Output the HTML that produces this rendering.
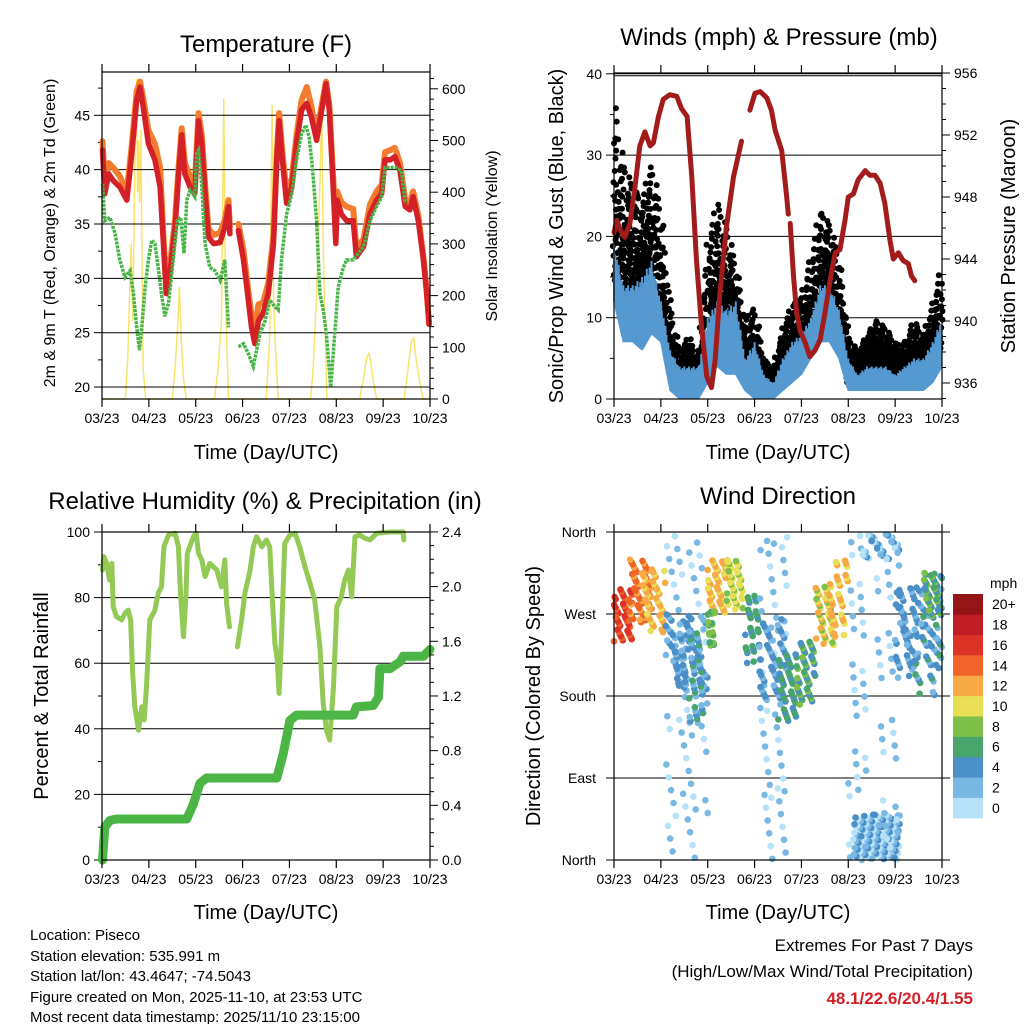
<!DOCTYPE html>
<html><head><meta charset="utf-8"><style>
body{margin:0;background:#fff}
svg{display:block;font-family:"Liberation Sans",sans-serif}
</style></head><body>
<svg id="s" width="1024" height="1024" viewBox="0 0 1024 1024" xmlns="http://www.w3.org/2000/svg">
<g font-size="24" text-anchor="middle">
<text x="266" y="52">Temperature (F)</text>
<text x="779" y="45">Winds (mph) &amp; Pressure (mb)</text>
<text x="265" y="509">Relative Humidity (%) &amp; Precipitation (in)</text>
<text x="778" y="504">Wind Direction</text>
</g>
<g font-size="20" text-anchor="middle">
<text x="266" y="459">Time (Day/UTC)</text>
<text x="778" y="459">Time (Day/UTC)</text>
<text x="266" y="919">Time (Day/UTC)</text>
<text x="778" y="919">Time (Day/UTC)</text>
<text transform="translate(55,233) rotate(-90)" font-size="16">2m &amp; 9m T (Red, Orange) &amp; 2m Td (Green)</text>
<text transform="translate(497,236) rotate(-90)" font-size="16">Solar Insolation (Yellow)</text>
<text transform="translate(563,236) rotate(-90)">Sonic/Prop Wind &amp; Gust (Blue, Black)</text>
<text transform="translate(1015,236) rotate(-90)">Station Pressure (Maroon)</text>
<text transform="translate(48,696) rotate(-90)">Percent &amp; Total Rainfall</text>
<text transform="translate(540,696) rotate(-90)">Direction (Colored By Speed)</text>
</g>
<g font-size="15">
<text x="30" y="940">Location: Piseco</text>
<text x="30" y="961">Station elevation: 535.991 m</text>
<text x="30" y="981">Station lat/lon: 43.4647; -74.5043</text>
<text x="30" y="1002">Figure created on Mon, 2025-11-10, at 23:53 UTC</text>
<text x="30" y="1022">Most recent data timestamp: 2025/11/10 23:15:00</text>
</g>
<g font-size="17" text-anchor="end">
<text x="973" y="951">Extremes For Past 7 Days</text>
<text x="973" y="977">(High/Low/Max Wind/Total Precipitation)</text>
<text x="973" y="1004" fill="#d42027" font-weight="bold">48.1/22.6/20.4/1.55</text>
</g>
<g id="plots"></g>
</svg>
<script>
// ---- Temperature data (day, value) ----
const redDays=[0.01,0.06,0.14,0.24,0.38,0.53,0.63,0.74,0.81,0.88,0.99,1.13,1.24,1.31,1.37,1.45,1.56,1.63,1.70,1.77,1.88,1.98,2.06,2.13,2.20,2.27,2.38,2.52,2.62,2.70,2.73,null,2.91,3.02,3.09,3.19,3.26,3.34,3.44,3.55,3.66,3.73,3.78,3.85,3.94,4.05,4.15,4.26,4.37,4.47,4.58,4.69,4.78,4.85,4.94,4.99,5.02,5.11,5.22,5.36,5.43,5.58,5.72,5.86,5.97,6.04,6.15,6.25,6.36,6.47,6.57,6.64,6.75,6.86,6.93,6.98];
const redT=[41.8,37.8,39.6,39.0,38.4,37.2,41.2,46.4,47.6,45.8,42.4,40.9,38.4,33.2,28.6,30.4,34.7,39.3,43.2,39.6,38.4,37.8,44.5,42.4,37.8,33.8,33.2,33.3,34.7,36.6,34.1,null,34.4,31.7,29.2,25.5,24.0,26.1,26.8,28.6,33.2,40.9,44.5,40.9,36.9,38.4,42.4,45.5,46.1,44.8,42.7,45.5,47.9,45.5,37.8,33.2,37.2,35.9,35.3,35.3,32.0,32.9,35.9,37.2,37.8,40.9,40.9,41.2,39.9,36.6,36.3,37.5,35.3,31.7,28.6,25.8];
const orangeT=[42.6,38.8,40.6,40.2,39.4,38.0,42.0,47.2,48.1,46.6,43.6,42.4,40.2,34.0,29.4,31.2,35.4,40.0,43.8,40.6,39.4,38.6,45.2,43.2,38.6,34.6,34.0,34.2,35.4,37.2,34.8,null,35.0,32.6,30.0,26.6,25.4,27.6,27.8,29.6,34.0,41.4,45.2,41.6,37.8,39.2,43.2,46.4,47.6,45.8,43.2,46.0,48.1,46.0,38.8,34.2,38.0,37.0,36.6,36.4,32.8,33.6,36.8,38.0,38.6,41.6,41.8,42.0,40.6,37.2,37.0,38.0,35.8,32.0,28.8,25.8];
const greenDays=[0.01,0.06,0.17,0.28,0.38,0.49,0.60,0.67,0.74,0.80,0.85,0.92,0.99,1.06,1.13,1.20,1.27,1.34,1.42,1.52,1.61,1.68,1.75,1.81,1.88,1.98,2.02,2.06,2.13,2.20,2.30,2.41,2.52,2.62,2.70,null,2.91,3.02,3.12,3.23,3.30,3.37,3.48,3.58,3.69,3.76,3.83,3.94,4.05,4.15,4.26,4.35,4.42,4.49,4.58,4.65,4.72,4.79,4.88,4.94,5.04,5.15,5.22,5.36,5.47,5.58,5.72,5.86,5.97,6.04,6.18,6.29,6.39,6.47];
const greenT=[38.7,35.3,35.6,34.1,31.7,30.1,30.7,28.6,25.5,23.4,25.5,29.2,31.7,33.5,33.2,31.0,28.6,26.5,27.7,31.7,35.3,35.6,32.3,37.2,38.1,37.5,41.5,41.8,38.4,33.2,31.0,30.7,29.8,31.7,25.5,null,23.7,24.0,23.1,21.9,23.4,24.9,26.1,28.0,27.4,27.1,31.7,35.9,37.8,40.9,43.3,44.1,43.0,40.2,35.3,28.6,27.1,24.9,20.0,23.4,29.2,31.0,31.7,31.7,32.3,32.9,35.3,36.6,37.5,40.2,40.2,40.2,39.9,36.9];
const solarDays=[0,0.5,0.55,0.62,0.66,0.7,0.74,0.76,0.78,0.8,0.83,0.86,0.88,0.93,1.5,1.56,1.62,1.65,1.69,1.74,1.8,2.4,2.48,2.55,2.6,2.63,2.66,2.7,3.5,3.53,3.58,3.63,3.66,3.7,3.76,4.45,4.5,4.58,4.65,4.69,4.72,4.76,4.8,5.5,5.58,5.65,5.7,5.75,5.8,5.86,6.45,6.52,6.6,6.65,6.7,6.77,6.85,7];
const solarW=[0,0,80,300,150,450,620,400,500,380,520,200,60,0,0,60,150,217,120,40,0,0,60,150,582,250,120,0,0,40,120,569,200,100,0,0,50,200,420,559,300,150,0,0,40,80,89,60,30,0,0,50,110,118,80,40,0,0];
// ---- Winds ----
const windDays=[0,0.2,0.4,0.6,0.8,1.0,1.2,1.4,1.6,1.8,2.0,2.2,2.4,2.6,2.8,3.0,3.2,3.4,3.6,3.8,4.0,4.2,4.4,4.6,4.8,5.0,5.2,5.4,5.6,5.8,6.0,6.2,6.4,6.6,6.8,7.0];
const sonicLo=[12,7,7,6,8,7,1,0,0,0,2,4,3,3,1,0,0,0,1,2,3,5,7,7,5,1,1,1,1,1,1,1,1,1,2,4];
const sonicHi=[19,14,14,15,17,12,6,4,4,4,10,12,11,12,5,7,3,2,5,7,8,10,14,14,11,5,3,4,4,4,3,4,5,5,7,10];
const gustLo=[15,12,12,14,14,10,3,1,2,1,6,10,7,8,3,2,1,1,2,4,5,7,11,12,8,2,2,3,4,3,3,2,3,3,4,7];
const gustHi=[38,30,27,25,30,24,12,6,8,5,20,25,22,17,10,12,5,4,9,12,13,18,24,22,18,8,6,8,10,9,7,7,10,8,12,17];
const presDays=[0,0.06,0.13,0.23,0.34,0.45,0.55,0.66,0.77,0.84,0.95,1.05,1.19,1.34,1.44,1.56,1.66,1.76,1.87,1.98,2.08,2.16,2.26,2.40,2.55,2.72,null,2.90,3.01,3.12,3.26,3.36,3.44,3.58,3.68,3.72,null,3.76,3.83,3.90,3.97,4.08,4.18,4.29,4.40,4.50,4.61,4.72,4.82,4.93,5.00,5.11,5.21,5.36,5.46,5.57,5.68,5.78,5.89,5.96,6.07,6.17,6.28,6.35,6.42];
const presMb=[945.7,946.5,945.9,945.4,946.3,948.7,951.3,952.2,951.3,951.5,953.2,954.3,954.6,954.5,953.7,953.2,949.3,943.9,939.6,936.4,935.7,937.5,941.8,946.1,949.3,951.6,null,953.6,954.7,954.8,954.4,953.6,952.3,951.0,948.2,946.9,null,946.3,942.9,940.5,939.4,938.6,937.7,938.1,938.8,940.5,942.6,944.4,944.6,946.5,948.0,948.2,949.1,949.7,949.4,949.4,948.9,947.6,945.2,944.0,944.4,943.9,943.7,942.9,942.6];
// ---- RH & precipitation ----
const rhDays=[0.01,0.04,0.10,0.16,0.21,0.24,0.31,0.42,0.49,0.56,0.61,0.65,0.70,0.78,0.85,0.90,0.95,1.02,1.13,1.20,1.27,1.32,1.42,1.56,1.63,1.68,1.74,1.79,1.82,1.95,2.01,2.06,2.13,2.20,2.30,2.45,2.55,2.62,2.66,2.72,null,2.89,2.98,3.05,3.16,3.23,3.30,3.41,3.51,3.58,3.64,3.69,3.74,3.78,3.83,3.90,4.01,4.12,4.22,4.33,4.44,4.54,4.65,4.72,4.79,4.86,4.94,5.01,5.11,5.18,5.26,5.33,5.40,5.50,5.61,5.72,5.86,6.15,6.43,6.44];
const rhVal=[88.4,92.5,90.4,85.4,90.4,77.2,74.2,73.2,75.2,76.2,73.2,57.9,46.7,39.6,46.7,42.7,52.8,73.2,76.2,81.3,83.3,95.5,99.1,99.6,95.5,80.3,68.1,80.3,93.5,98.6,99.6,93.5,91.5,86.4,90.4,88.4,83.3,91.5,78.2,71.1,null,65.0,73.2,81.3,88.4,95.5,98.6,95.5,97.6,95.5,78.2,66.0,61.0,50.8,68.1,96.5,99.1,99.6,95.5,89.4,84.4,79.3,65.0,47.8,39.6,36.6,52.8,77.2,80.3,85.4,88.4,80.3,98.6,99.1,98.1,97.6,99.6,100,100,97.6];
const pcpDays=[0.01,0.06,0.17,0.31,1.81,1.95,2.09,2.23,3.73,3.87,4.01,4.15,5.36,5.43,5.79,5.90,5.93,6.15,6.36,6.43,6.86,7.0];
const pcpIn=[0,0.24,0.29,0.30,0.30,0.41,0.56,0.60,0.60,0.78,1.02,1.06,1.06,1.12,1.13,1.19,1.40,1.40,1.45,1.49,1.49,1.54];
// ---- Wind direction clusters ----
const dirDayLo=[0.0,0.3,0.6,1.1,1.1,1.3,1.6,2.0,2.4,2.0,2.8,3.1,3.1,3.5,3.9,4.3,4.6,5.0,5.1,5.3,5.6,6.0,6.0,6.4,6.6];
const dirDayHi=[0.4,0.8,1.1,2.0,2.0,1.6,1.9,2.4,2.75,2.15,3.1,3.7,3.7,3.9,4.3,4.7,5.0,5.4,6.1,6.1,6.1,6.5,7.0,7.0,7.0];
const dirLo=[240,260,250,0,185,190,150,270,275,230,215,0,175,150,170,235,245,0,0,330,0,200,210,180,265];
const dirHi=[300,330,320,360,270,260,260,330,330,275,290,360,265,230,240,300,330,360,50,360,360,300,300,260,315];
const dirSpeed=[15,13,11,1,3,3,4,11,9,7,5,1,3,5,6,10,11,1,2,2,1,3,3,4,6];
const dirCount=[45,55,45,70,55,30,40,45,45,20,30,60,45,40,45,45,35,35,120,35,30,40,40,30,50];
const speedLabels=["0","2","4","6","8","10","12","14","16","18","20+"];
const speedColors=["#b5e2f8","#7ab8e4","#4a8fc7","#48a56b","#7cc04a","#e8df57","#f7a943","#f06429","#dd3326","#be1e24","#931518"];
const dayLabels=["03/23","04/23","05/23","06/23","07/23","08/23","09/23","10/23"];

const NS="http://www.w3.org/2000/svg";
const root=document.getElementById('plots');
function mk(tag,attrs,parent){const e=document.createElementNS(NS,tag);for(const k in attrs)e.setAttribute(k,attrs[k]);(parent||root).appendChild(e);return e;}
function pathFrom(xs,ys,fx,fy){let d='',pen=false;for(let i=0;i<xs.length;i++){if(xs[i]===null||ys[i]===null){pen=false;continue;}d+=(pen?'L':'M')+fx(xs[i]).toFixed(1)+','+fy(ys[i]).toFixed(1);pen=true;}return d;}

function frame(L,R,T,B,name){
  const g=mk('g',{});
  
  
  mk('rect',{x:L,y:T,width:R-L,height:B-T,fill:'none',stroke:'#000','stroke-width':1.2},g);
  const sx=(R-L)/7;
  for(let i=0;i<8;i++){const x=L+i*sx;
    mk('line',{x1:x,y1:B,x2:x,y2:B+8,stroke:'#000','stroke-width':1.2},g);
    mk('line',{x1:x,y1:T,x2:x,y2:T-8,stroke:'#000','stroke-width':1.2},g);
    const t=mk('text',{x:x,y:B+24,'font-size':14,'text-anchor':'middle'},g);t.textContent=dayLabels[i];
    
    
  }
  return g;
}

// ===== Panel 1: Temperature =====
{const L=102,R=430,T=72,B=399;
 const fx=d=>L+d*(R-L)/7;
 const fyT=d=>B-(d-18.9)*10.87;
 const fyS=w=>B-w*0.517;
 const g=mk('g',{});
 
 
 const sol=mk('path',{d:pathFrom(solarDays,solarW,fx,fyS),fill:'none',stroke:'#f8e05a','stroke-width':1.5,opacity:0.9},g);
 
 
 const gridT=[20,25,30,35,40,45];
 for(const v of gridT){mk('line',{x1:L,y1:fyT(v),x2:R,y2:fyT(v),stroke:'#000','stroke-width':1},g);
   mk('line',{x1:L,y1:fyT(v),x2:L-8,y2:fyT(v),stroke:'#000'},g);
   const t=mk('text',{x:L-12,y:fyT(v)+5,'font-size':14,'text-anchor':'end'},g);t.textContent=v;
   mk('line',{x1:L,y1:fyT(v+2.5),x2:L-4,y2:fyT(v+2.5),stroke:'#000'},g);}
 for(let w=0;w<=620;w+=20){const y=fyS(w);const maj=w%100===0;
   mk('line',{x1:R,y1:y,x2:R+(maj?8:4),y2:y,stroke:'#000'},g);
   if(maj){const t=mk('text',{x:R+12,y:y+5,'font-size':14},g);t.textContent=w;}}
 const o=mk('path',{d:pathFrom(redDays,orangeT,fx,fyT),fill:'none',stroke:'#f47c2c','stroke-width':6,'stroke-linejoin':'round','stroke-linecap':'round'},g);
 
 
 const r=mk('path',{d:pathFrom(redDays,redT,fx,fyT),fill:'none',stroke:'#d42027','stroke-width':5.5,'stroke-linejoin':'round','stroke-linecap':'round'},g);
 
 
 const gr=mk('path',{d:pathFrom(greenDays,greenT,fx,fyT),fill:'none',stroke:'#48b448','stroke-width':3.5,'stroke-dasharray':'3 1'},g);
 
 
 frame(L,R,T,B,'temperature');
}
// ===== Panel 2: Winds =====
{const L=614,R=942,T=73,B=399;
 const fx=d=>L+d*(R-L)/7;
 const fyW=v=>B-v*8.13;
 const fyP=p=>383-(p-936)*15.5;
 const g=mk('g',{});
 
 
 for(let v=0;v<=40;v+=5){const y=fyW(v);const maj=v%10===0;
   mk('line',{x1:L,y1:y,x2:L-(maj?8:4),y2:y,stroke:'#000'},g);
   if(maj){const t=mk('text',{x:L-12,y:y+5,'font-size':14,'text-anchor':'end'},g);t.textContent=v;
     if(v>0)mk('line',{x1:L,y1:y,x2:R,y2:y,stroke:'#000'},g);}}
 mk('line',{x1:L,y1:fyW(40)+2,x2:R,y2:fyW(40)+2,stroke:'#000'},g);
 for(let p=935;p<=956;p++){const y=fyP(p);const maj=(p-936)%4===0;
   mk('line',{x1:R,y1:y,x2:R+(maj?8:4),y2:y,stroke:'#000'},g);
   if(maj){const t=mk('text',{x:R+12,y:y+5,'font-size':14},g);t.textContent=p;}}
 // gust dots
 const gd=mk('g',{fill:'#000'},g);
 
 
 const fr=[0.05,0.55,0.3,0.8,0.15,0.65,0.4,0.95,0.25,0.7,0.5,0.1,0.85,0.35,0.6,0.45,0.2];
 let k=0;
 for(let i=0;i<windDays.length-1;i++){for(let s=0;s<14;s++){const a=s/14;const d=windDays[i]+a*(windDays[i+1]-windDays[i]);
   const lo=gustLo[i]+a*(gustLo[i+1]-gustLo[i]),hi=gustHi[i]+a*(gustHi[i+1]-gustHi[i]);
   for(let j=0;j<5;j++){const f=fr[(k++)%fr.length];mk('circle',{cx:(fx(d)+((k%3)-1)*1.2).toFixed(1),cy:fyW(lo+(hi-lo)*Math.pow(f,1.5)).toFixed(1),r:3},gd);}}}
 // sonic band as dense vertical strokes
 const sg=mk('g',{stroke:'#5599d0','stroke-width':2},g);
 
 
 const jf=[0.0,0.35,0.1,0.6,0.2,0.45,0.05,0.3,0.55,0.15];
 let m=0;
 for(let i=0;i<windDays.length-1;i++){for(let s=0;s<20;s++){const a=s/20;const d=windDays[i]+a*(windDays[i+1]-windDays[i]);
   const lo=sonicLo[i]+a*(sonicLo[i+1]-sonicLo[i]),hi=sonicHi[i]+a*(sonicHi[i+1]-sonicHi[i]);
   const top=hi-(hi-lo)*jf[(m++)%jf.length];
   const x=fx(d).toFixed(1);
   mk('line',{x1:x,y1:fyW(lo).toFixed(1),x2:x,y2:fyW(top).toFixed(1)},sg);}}
 const pr=mk('path',{d:pathFrom(presDays,presMb,fx,fyP),fill:'none',stroke:'#a31c1c','stroke-width':5,'stroke-linejoin':'round','stroke-linecap':'round'},g);
 
 
 frame(L,R,T,B,'winds');
}
// ===== Panel 3: RH & precip =====
{const L=102,R=430,T=532,B=860;
 const fx=d=>L+d*(R-L)/7;
 const fyR=v=>B-v*3.28;
 const fyP=p=>B-p*136.7;
 const g=mk('g',{});
 
 
 for(let v=0;v<=100;v+=10){const y=fyR(v);const maj=v%20===0;
   mk('line',{x1:L,y1:y,x2:L-(maj?8:4),y2:y,stroke:'#000'},g);
   if(maj){const t=mk('text',{x:L-12,y:y+5,'font-size':14,'text-anchor':'end'},g);t.textContent=v;
     if(v>0&&v<100)mk('line',{x1:L,y1:y,x2:R,y2:y,stroke:'#000'},g);}}
 for(let p=0;p<=24;p++){const y=fyP(p/10);const maj=p%4===0;
   mk('line',{x1:R,y1:y,x2:R+(maj?8:4),y2:y,stroke:'#000'},g);
   if(maj){const t=mk('text',{x:R+12,y:y+5,'font-size':14},g);t.textContent=(p/10).toFixed(1);}}
 const rh=mk('path',{d:pathFrom(rhDays,rhVal,fx,fyR),fill:'none',stroke:'#93c955','stroke-width':5,'stroke-linejoin':'round','stroke-linecap':'round'},g);
 
 
 const pc=mk('path',{d:pathFrom(pcpDays,pcpIn,fx,fyP),fill:'none',stroke:'#4bb545','stroke-width':9,'stroke-linejoin':'round','stroke-linecap':'round'},g);
 
 
 frame(L,R,T,B,'humidity');
}
// ===== Panel 4: Wind direction =====
{const L=614,R=942,T=532,B=860;
 const fx=d=>L+d*(R-L)/7;
 const fyD=v=>B-v/360*(B-T);
 const g=mk('g',{});
 
 
 const names=['North','East','South','West','North'];
 for(let i=0;i<5;i++){const y=fyD(i*90);
   mk('line',{x1:L-8,y1:y,x2:R+8,y2:y,stroke:'#000'},g);
   const t=mk('text',{x:L-18,y:y+5,'font-size':14,'text-anchor':'end'},g);t.textContent=names[i];}
 const dg=mk('g',{},g);
 
 
 for(let c=0;c<dirDayLo.length;c++){for(let j=0;j<dirCount[c];j++){
   const u=(j*0.6180339+0.13*c)%1, w=(j*0.7548777+0.29*c)%1;
   const d=dirDayLo[c]+u*(dirDayHi[c]-dirDayLo[c]);
   const a=dirLo[c]+w*(dirHi[c]-dirLo[c]);
   const sp=Math.max(0,Math.min(10,Math.round((dirSpeed[c]+((j%3)-1)*1.5)/2)));
   mk('circle',{cx:fx(d).toFixed(1),cy:fyD(a).toFixed(1),r:3.3,fill:speedColors[sp]},dg);}}
 frame(L,R,T,B,'wind-direction');
 const cb=mk('g',{});
 
 
 const ct=mk('text',{x:990,y:588,'font-size':14},cb);ct.textContent='mph';
 const bh=(818-594)/11;
 for(let i=0;i<11;i++){const y=818-(i+1)*bh;
   mk('rect',{x:953,y:y,width:30,height:bh+0.3,fill:speedColors[i]},cb);
   const t=mk('text',{x:992,y:y+bh/2+5,'font-size':14},cb);t.textContent=speedLabels[i];}
}
</script>
</body></html>
